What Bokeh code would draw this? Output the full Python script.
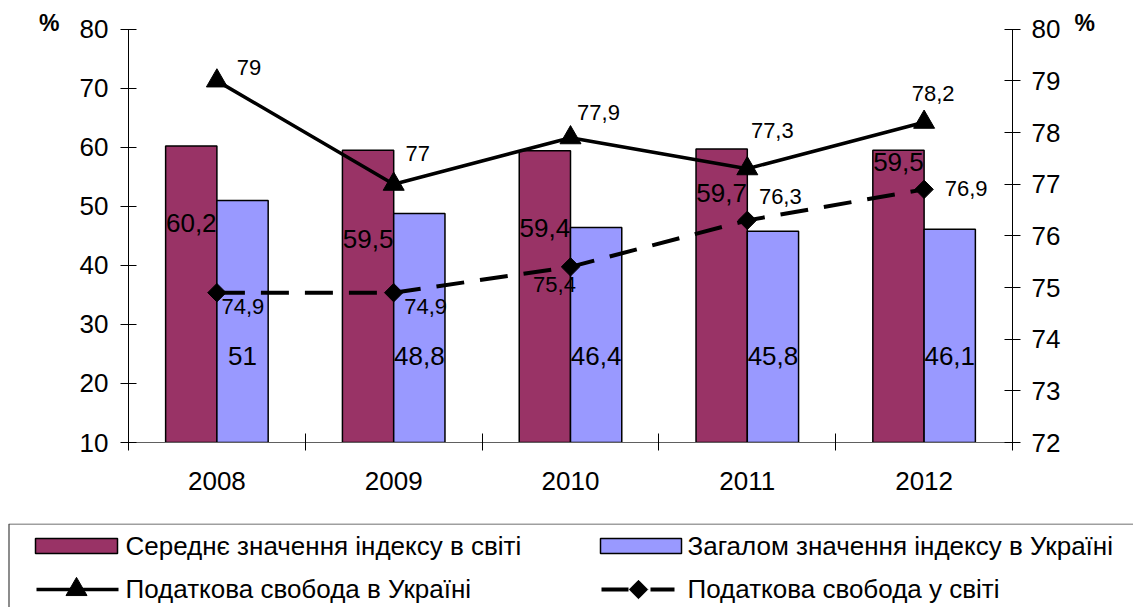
import math
from bokeh.plotting import figure
from bokeh.models import Range1d, LinearAxis, FixedTicker, ColumnDataSource
from bokeh.embed import file_html
from bokeh.resources import INLINE
from bokeh.core.properties import value

# ---------------- data ----------------
years = ["2008", "2009", "2010", "2011", "2012"]
world_index = [60.2, 59.5, 59.4, 59.7, 59.5]        # Середнє значення індексу в світі (left axis)
ukraine_index = [51, 48.8, 46.4, 45.8, 46.1]        # Загалом значення індексу в Україні (left axis)
ukraine_tax = [79, 77, 77.9, 77.3, 78.2]            # Податкова свобода в Україні (right axis)
world_tax = [74.9, 74.9, 75.4, 76.3, 76.9]          # Податкова свобода у світі (right axis)
left_ticks = [10, 20, 30, 40, 50, 60, 70, 80]
right_ticks = [72, 73, 74, 75, 76, 77, 78, 79, 80]

legend_labels = ["Середнє значення індексу в світі", "Загалом значення індексу в Україні",
                 "Податкова свобода в Україні", "Податкова свобода у світі"]

# ---------------- layout / style ----------------
FONT = "Liberation Sans"
MAROON = "#993366"
BLUE = "#9999FF"
W = 1133
BAR_W = 0.29
HEAD = 3.0   # extra room above the 80 tick (left-axis units) for the "%" marks
TICK_FS = "26px"
# manual data-label placement (as in the original)
world_label_at = [47.1, 44.4, 46.3, 52.2, 57.5]
ukr_label_at = [24.6] * 5
ukr_tax_off = [(32, -13), (24, -31), (28, -25), (25, -38), (9, -29)]
world_tax_off = [(26, 14), (32, 14), (-16, 18), (33, -24), (42, -1)]


def fmt(v):
    return f"{v:g}".replace(".", ",")


n = len(years)
centers = [i + 0.5 for i in range(n)]
x_maroon = [c - BAR_W / 2 for c in centers]
x_blue = [c + BAR_W / 2 for c in centers]

lo, hi = left_ticks[0], left_ticks[-1]
rlo, rhi = right_ticks[0], right_ticks[-1]
r_extra = HEAD * (rhi - rlo) / (hi - lo)

p = figure(width=W, height=523, x_range=Range1d(0, n), y_range=Range1d(lo, hi + HEAD),
           output_backend="svg", toolbar_location=None,
           min_border_left=128, min_border_right=W - 1012, min_border_top=11, min_border_bottom=81)
p.extra_y_ranges = {"r": Range1d(rlo, rhi + r_extra)}
p.outline_line_color = None
p.xgrid.visible = False
p.ygrid.visible = False


def style_axis(ax, size=TICK_FS):
    ax.major_label_text_font = FONT
    ax.major_label_text_font_size = size
    ax.major_label_text_color = "black"
    ax.minor_tick_line_color = None


# x axis: labels at category centers, tick marks at category boundaries
xa = p.xaxis[0]
xa.ticker = FixedTicker(ticks=centers, minor_ticks=list(range(n + 1)))
xa.major_label_overrides = {c: y for c, y in zip(centers, years)}
style_axis(xa)
xa.major_tick_in = 0
xa.major_tick_out = 0
xa.minor_tick_in = 9
xa.minor_tick_out = 8
xa.minor_tick_line_color = "black"
xa.axis_line_color = "#606060"
xa.major_label_standoff = 21

ya = p.yaxis[0]
ya.ticker = FixedTicker(ticks=left_ticks)
ya.bounds = (lo, hi)
style_axis(ya)
ya.major_tick_in = 8
ya.major_tick_out = 8
ya.axis_line_color = "black"
ya.major_tick_line_color = "black"
ya.major_label_standoff = 12

ra = LinearAxis(y_range_name="r", ticker=FixedTicker(ticks=right_ticks), bounds=(rlo, rhi))
style_axis(ra)
ra.major_tick_in = 8
ra.major_tick_out = 8
ra.axis_line_color = "black"
ra.major_tick_line_color = "black"
ra.major_label_standoff = 11
p.add_layout(ra, "right")

# "%" unit marks, drawn as outer axes with a single labelled position
PCT = hi + 1.0
for side, stand in (("left", 17), ("right", 11)):
    pa = LinearAxis(ticker=FixedTicker(ticks=[PCT]), major_label_overrides={PCT: "%"})
    style_axis(pa, "23px")
    pa.major_label_text_font_style = "bold"
    pa.axis_line_color = None
    pa.major_tick_line_color = None
    pa.major_tick_in = 0
    pa.major_tick_out = 0
    pa.major_label_standoff = stand
    p.add_layout(pa, side)

# bars
p.vbar(x=x_maroon, width=BAR_W, top=world_index, bottom=lo,
       fill_color=MAROON, line_color="black", line_width=1.5)
p.vbar(x=x_blue, width=BAR_W, top=ukraine_index, bottom=lo,
       fill_color=BLUE, line_color="black", line_width=1.5)

# lines (right axis)
p.line(x=centers, y=world_tax, y_range_name="r", line_color="black", line_width=4, line_dash="28 16")
p.scatter(x=centers, y=world_tax, y_range_name="r", marker="square", angle=math.pi / 4, size=13,
          fill_color="black", line_color="black")
p.line(x=centers, y=ukraine_tax, y_range_name="r", line_color="black", line_width=3.5)
p.scatter(x=centers, y=ukraine_tax, y_range_name="r", marker="triangle", size=21,
          fill_color="black", line_color="black")

# bar labels
p.text(x=x_maroon, y=world_label_at, text=[fmt(v) for v in world_index],
       text_font=value(FONT), text_font_size="26px", text_align="center", text_baseline="middle",
       text_color="black")
p.text(x=x_blue, y=ukr_label_at, text=[fmt(v) for v in ukraine_index],
       text_font=value(FONT), text_font_size="26px", text_align="center", text_baseline="middle",
       text_color="black")

# line labels
src_u = ColumnDataSource(dict(x=centers, y=ukraine_tax, t=[fmt(v) for v in ukraine_tax],
                              dx=[o[0] for o in ukr_tax_off], dy=[o[1] for o in ukr_tax_off]))
p.text(x="x", y="y", text="t", x_offset="dx", y_offset="dy", source=src_u, y_range_name="r",
       text_font=value(FONT), text_font_size="22px", text_align="center", text_baseline="middle",
       text_color="black")
src_w = ColumnDataSource(dict(x=centers, y=world_tax, t=[fmt(v) for v in world_tax],
                              dx=[o[0] for o in world_tax_off], dy=[o[1] for o in world_tax_off]))
p.text(x="x", y="y", text="t", x_offset="dx", y_offset="dy", source=src_w, y_range_name="r",
       text_font=value(FONT), text_font_size="22px", text_align="center", text_baseline="middle",
       text_color="black")

# ---------------- legend (separate panel below the chart) ----------------
LH = 84
lg = figure(width=W, height=LH, x_range=Range1d(0, W), y_range=Range1d(LH, 0),
            x_axis_type=None, y_axis_type=None, output_backend="svg", toolbar_location=None,
            min_border=0)
lg.outline_line_color = None
lg.xgrid.visible = False
lg.ygrid.visible = False
lg.quad(left=8.5, right=W + 5, top=0.5, bottom=LH + 5, fill_color=None, line_color="#404040",
        line_width=1.2)

r1, r2 = 22, 65
lg.quad(left=[35], right=[117], top=[r1 - 7], bottom=[r1 + 8], fill_color=MAROON, line_color="black",
        line_width=1.5)
lg.quad(left=[600], right=[681], top=[r1 - 7], bottom=[r1 + 8], fill_color=BLUE, line_color="black",
        line_width=1.5)
lg.segment(x0=[36], y0=[r2 + 1], x1=[118], y1=[r2 + 1], line_color="black", line_width=3.5)
lg.scatter(x=[76], y=[r2 + 1], marker="triangle", size=21, fill_color="black", line_color="black")
lg.segment(x0=[601, 650], y0=[r2 + 1, r2 + 1], x1=[628, 674], y1=[r2 + 1, r2 + 1],
           line_color="black", line_width=4)
lg.scatter(x=[638], y=[r2 + 1], marker="square", angle=math.pi / 4, size=13, fill_color="black",
           line_color="black")
lg.text(x=[125, 687, 125, 687], y=[r1, r1, r2, r2], text=legend_labels,
        text_font=value(FONT), text_font_size="26px", text_align="left", text_baseline="middle",
        text_color="black")

open("out.html", "w").write(file_html([p, lg], INLINE))
